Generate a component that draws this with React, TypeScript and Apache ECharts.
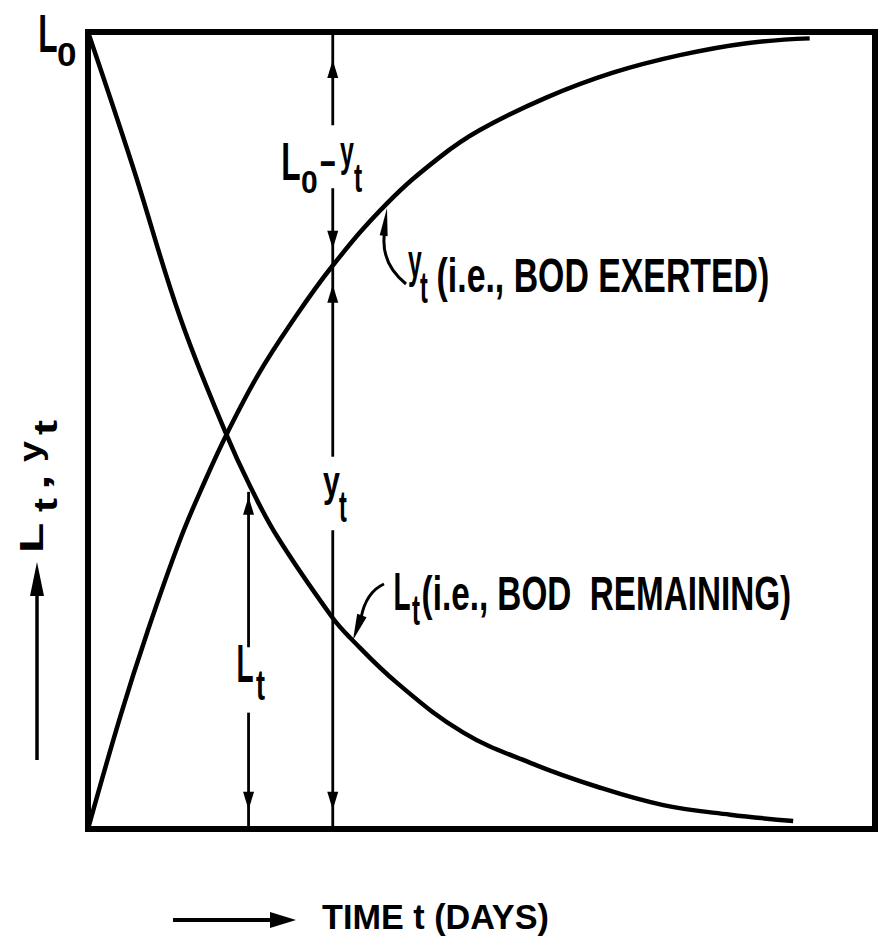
import React, { useEffect, useRef } from "react";
import * as echarts from "echarts";

// ---- data (time in % of plotted span, value in % of L0) ----
const tRemaining = [0, 5.7, 11.7, 17.5, 20.6, 24.1, 31.0, 33.3, 39.3, 47.7, 56.2, 64.7, 73.1, 81.6, 89.6];
const lRemaining = [100, 83.1, 64.2, 49.7, 43.0, 36.6, 26.6, 24.0, 18.3, 12.1, 8.3, 5.3, 3.0, 1.8, 1.0];

const tExerted = [0, 4.1, 7.5, 11.7, 15.1, 17.7, 21.5, 25.7, 31.1, 38.0, 44.7, 49.8, 58.3, 66.7, 75.2, 83.7, 91.7];
const yExerted = [0, 14.1, 24.6, 36.3, 44.2, 49.7, 56.8, 63.3, 70.7, 78.5, 84.3, 87.7, 91.8, 94.9, 97.1, 98.6, 99.2];

// dimension-arrow annotations (data units)
const exertedMarkerT = 31.1;
const exertedMarkerSegments = [[100, 88.3], [80.4, 46.7], [37.5, 0]];
const exertedMarkerHeads: [number, string][] = [[96.5, "up"], [72.8, "down"], [68.3, "up"], [2.4, "down"]];
const remainingMarkerT = 20.4;
const remainingMarkerSegments = [[42.3, 22.8], [14.6, 0]];
const remainingMarkerHeads: [number, string][] = [[41.7, "up"], [2.4, "down"]];

const W = 879;
const H = 938;
const FONT = "Liberation Sans";
const BASE_SHIFT = 0.3465;

type Run = { text: string; x0: number; x1: number; base: number; size: number };

const canvasCtx = (() => {
  const c = document.createElement("canvas");
  return c.getContext("2d") as CanvasRenderingContext2D;
})();

function runText(r: Run): any {
  canvasCtx.font = `bold ${r.size}px "${FONT}"`;
  const m = canvasCtx.measureText(r.text);
  const w = m.actualBoundingBoxLeft + m.actualBoundingBoxRight;
  const s = (r.x1 - r.x0) / w;
  return {
    type: "text",
    x: r.x0 + m.actualBoundingBoxLeft * s,
    y: r.base - BASE_SHIFT * r.size,
    scaleX: s,
    silent: true,
    style: {
      text: r.text,
      fontSize: r.size,
      fontWeight: "bold",
      fontFamily: FONT,
      fill: "#000",
      textAlign: "left",
      textVerticalAlign: "middle",
    },
  };
}

function seg(x1: number, y1: number, x2: number, y2: number, w: number): any {
  return { type: "line", silent: true, shape: { x1, y1, x2, y2 }, style: { stroke: "#000", lineWidth: w } };
}

function head(tx: number, ty: number, dx: number, dy: number, len: number, hw: number): any {
  const n = Math.hypot(dx, dy);
  const ux = dx / n;
  const uy = dy / n;
  const bx = tx - ux * len;
  const by = ty - uy * len;
  return {
    type: "polygon",
    silent: true,
    shape: { points: [[tx, ty], [bx - uy * hw, by + ux * hw], [bx + uy * hw, by - ux * hw]] },
    style: { fill: "#000" },
  };
}

const labelRuns: Run[] = [
  // L0
  { text: "L", x0: 40, x1: 57, base: 52, size: 54 },
  { text: "0", x0: 58, x1: 75, base: 66, size: 33 },
  // L0 - yt
  { text: "L", x0: 283, x1: 300, base: 180, size: 54 },
  { text: "0", x0: 302, x1: 317, base: 193, size: 32 },
  { text: "-", x0: 320, x1: 335, base: 174, size: 40 },
  { text: "y", x0: 340, x1: 354, base: 166, size: 43 },
  { text: "t", x0: 354, x1: 362, base: 192, size: 40 },
  // yt (i.e., BOD EXERTED)
  { text: "y", x0: 408, x1: 422, base: 277, size: 46 },
  { text: "t", x0: 420, x1: 428, base: 303, size: 44 },
  { text: "(i.e., BOD EXERTED)", x0: 438, x1: 768, base: 292, size: 48 },
  // Lt (i.e., BOD REMAINING)
  { text: "L", x0: 395, x1: 410, base: 610, size: 54 },
  { text: "t", x0: 412, x1: 420, base: 625, size: 42 },
  { text: "(i.e., BOD  REMAINING)", x0: 423, x1: 790, base: 610, size: 48 },
  // yt on the marker
  { text: "y", x0: 323, x1: 340, base: 496, size: 43 },
  { text: "t", x0: 339, x1: 347, base: 522, size: 44 },
  // Lt on the marker
  { text: "L", x0: 238, x1: 253, base: 682, size: 54 },
  { text: "t", x0: 256, x1: 265, base: 700, size: 42 },
  // x axis title
  { text: "TIME t (DAYS)", x0: 322, x1: 548, base: 929, size: 36 },
];

// rotated y-axis title (local coords along the text direction)
const yTitleRuns: Run[] = [
  { text: "L", x0: 0, x1: 27, base: 0, size: 33 },
  { text: "t", x0: 38, x1: 52, base: 14, size: 33 },
  { text: ",", x0: 63, x1: 72, base: 6, size: 33 },
  { text: "y", x0: 88, x1: 110, base: -2, size: 31 },
  { text: "t", x0: 115, x1: 130, base: 14, size: 33 },
];

function buildGraphic(chart: echarts.ECharts): any[] {
  const P = (t: number, v: number) => chart.convertToPixel({ gridIndex: 0 }, [t, v]) as number[];
  const g: any[] = [];

  const marker = (t: number, segs: number[][], heads: [number, string][]) => {
    segs.forEach(([a, b]) => {
      const p1 = P(t, a);
      const p2 = P(t, b);
      g.push(seg(p1[0], p1[1], p2[0], p2[1], 2.8));
    });
    heads.forEach(([v, dir]) => {
      const p = P(t, v);
      g.push(head(p[0], p[1], 0, dir === "up" ? -1 : 1, 18, 5.5));
    });
  };
  marker(exertedMarkerT, exertedMarkerSegments, exertedMarkerHeads);
  marker(remainingMarkerT, remainingMarkerSegments, remainingMarkerHeads);

  // hooks from labels to curves
  g.push({
    type: "bezierCurve",
    silent: true,
    shape: { x1: 406, y1: 284, cpx1: 379, cpy1: 262, x2: 385, y2: 230 },
    style: { stroke: "#000", lineWidth: 3, fill: "none" },
  });
  g.push(head(387, 208, 0.12, -1, 28, 4));
  g.push({
    type: "bezierCurve",
    silent: true,
    shape: { x1: 384, y1: 584, cpx1: 366, cpy1: 592, x2: 361, y2: 618 },
    style: { stroke: "#000", lineWidth: 3, fill: "none" },
  });
  g.push(head(353, 640, -8, 22, 26, 5));

  // axis title arrows
  g.push(seg(37, 760, 37, 592, 3.5));
  g.push(head(37, 562, 0, -1, 34, 7));
  g.push(seg(173, 920, 275, 920, 4));
  g.push(head(296, 920, 1, 0, 26, 8));

  labelRuns.forEach((r) => g.push(runText(r)));
  g.push({
    type: "group",
    x: 43,
    y: 550,
    rotation: Math.PI / 2,
    children: yTitleRuns.map((r) => runText(r)),
  });
  return g;
}

export default function App() {
  const ref = useRef<HTMLDivElement>(null);
  useEffect(() => {
    const el = ref.current as HTMLDivElement;
    const chart = echarts.init(el, null, { renderer: "svg", width: W, height: H });
    const hidden = { show: false };
    chart.setOption({
      animation: false,
      backgroundColor: "#fff",
      grid: { left: 88, top: 32, right: 4, bottom: 109, show: true, borderColor: "#000", borderWidth: 6 },
      xAxis: { type: "value", min: 0, max: 100, axisLine: hidden, axisTick: hidden, axisLabel: hidden, splitLine: hidden },
      yAxis: { type: "value", min: 0, max: 100, axisLine: hidden, axisTick: hidden, axisLabel: hidden, splitLine: hidden },
      series: [
        {
          name: "BOD remaining",
          type: "line",
          data: tRemaining.map((t, i) => [t, lRemaining[i]]),
          symbol: "none",
          smooth: 0.4,
          lineStyle: { color: "#000", width: 4.5 },
        },
        {
          name: "BOD exerted",
          type: "line",
          data: tExerted.map((t, i) => [t, yExerted[i]]),
          symbol: "none",
          smooth: 0.4,
          lineStyle: { color: "#000", width: 4.5 },
        },
      ],
    });
    chart.setOption({ graphic: buildGraphic(chart) });
    return () => chart.dispose();
  }, []);
  return <div ref={ref} style={{ position: "absolute", left: 0, top: 0, width: W, height: H, background: "#fff" }} />;
}
